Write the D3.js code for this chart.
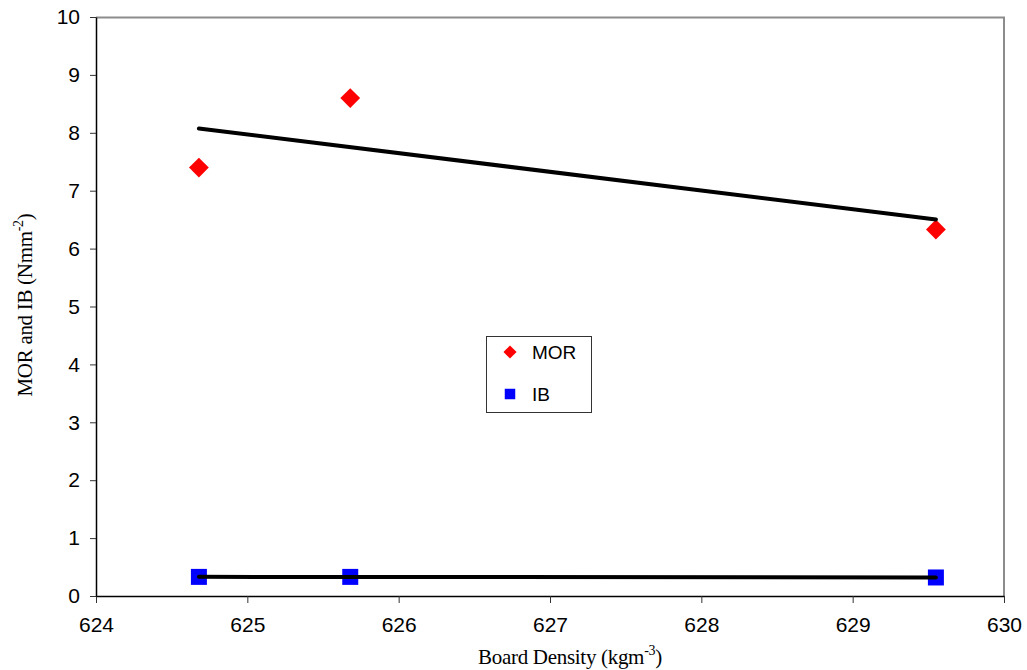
<!DOCTYPE html>
<html>
<head>
<meta charset="utf-8">
<script src="https://cdn.jsdelivr.net/npm/d3@7"></script>
<style>
  body { margin: 0; background: #fff; }
  text { font-family: Arial, "Liberation Sans", sans-serif; }
</style>
</head>
<body>
<script>
// board density values (kg/m3)
const density = [624.68, 625.68, 629.55];
const morValues = [7.40, 8.60, 6.33];
const ibValues = [0.33, 0.33, 0.32];
const xTicks = [624, 625, 626, 627, 628, 629, 630];
const yTicks = [0, 1, 2, 3, 4, 5, 6, 7, 8, 9, 10];
const seriesNames = ["MOR", "IB"];

const W = 1027, H = 670;
const margin = {top: 17, right: 23, bottom: 74, left: 96};
const width = W - margin.left - margin.right;
const height = H - margin.top - margin.bottom;

const svg = d3.select("body").append("svg")
   .attr("width", W)
   .attr("height", H);

const g = svg.append("g")
   .attr("transform", "translate(" + margin.left + "," + margin.top + ")");

const x = d3.scaleLinear().domain([624, 630]).range([0, width]);
const y = d3.scaleLinear().domain([0, 10]).range([height, 0]);

// top/right frame in grey
g.append("path")
   .attr("d", "M0,0.5H" + width + "V" + height)
   .attr("fill", "none")
   .attr("stroke", "#8c8c8c")
   .attr("stroke-width", 2);

// axes
const xAxis = g.append("g")
   .attr("transform", "translate(0," + height + ")")
   .call(d3.axisBottom(x).tickValues(xTicks).tickFormat(d3.format("d")).tickSizeInner(7).tickSizeOuter(0).tickPadding(14));
const yAxis = g.append("g")
   .call(d3.axisLeft(y).tickValues(yTicks).tickFormat(d3.format("d")).tickSizeInner(6).tickSizeOuter(0).tickPadding(10));

[xAxis, yAxis].forEach(a => {
  a.select(".domain").attr("stroke", "#000").attr("stroke-width", 1.5);
  a.selectAll(".tick line").attr("stroke", "#333");
  a.selectAll(".tick text")
     .attr("font-family", "Arial, 'Liberation Sans', sans-serif")
     .attr("font-size", 21)
     .attr("fill", "#000");
});

// linear trend lines
function trend(xs, ys) {
  const mx = d3.mean(xs), my = d3.mean(ys);
  let sxy = 0, sxx = 0;
  xs.forEach((v, i) => { sxy += (v - mx) * (ys[i] - my); sxx += (v - mx) * (v - mx); });
  const b = sxy / sxx, a = my - b * mx;
  const x0 = d3.min(xs), x1 = d3.max(xs);
  return [[x0, a + b * x0], [x1, a + b * x1]];
}

const morData = density.map((d, i) => ({x: d, y: morValues[i]}));
const ibData = density.map((d, i) => ({x: d, y: ibValues[i]}));

const diamond = d3.symbol().type(d3.symbolDiamond2).size(250);
const square = d3.symbol().type(d3.symbolSquare).size(256);

g.selectAll(".mor")
   .data(morData)
   .enter()
   .append("path")
   .attr("class", "mor")
   .attr("transform", d => "translate(" + x(d.x) + "," + y(d.y) + ")")
   .attr("d", diamond)
   .attr("fill", "#ff0000");

g.selectAll(".ib")
   .data(ibData)
   .enter()
   .append("path")
   .attr("class", "ib")
   .attr("transform", d => "translate(" + x(d.x) + "," + y(d.y) + ")")
   .attr("d", square)
   .attr("fill", "#0000ff");

const line = d3.line().x(d => x(d[0])).y(d => y(d[1]));
[trend(density, morValues), trend(density, ibValues)].forEach(t => {
  g.append("path")
     .attr("d", line(t))
     .attr("fill", "none")
     .attr("stroke", "#000")
     .attr("stroke-width", 4)
     .attr("stroke-linecap", "round");
});

// legend
const legend = svg.append("g").attr("transform", "translate(486,336)");
legend.append("rect")
   .attr("x", 0.5).attr("y", 0.5)
   .attr("width", 105).attr("height", 76)
   .attr("fill", "#fff")
   .attr("stroke", "#333")
   .attr("stroke-width", 1);
legend.append("path")
   .attr("transform", "translate(24,16)")
   .attr("d", d3.symbol().type(d3.symbolDiamond2).size(110))
   .attr("fill", "#ff0000");
legend.append("path")
   .attr("transform", "translate(24,58)")
   .attr("d", d3.symbol().type(d3.symbolSquare).size(110))
   .attr("fill", "#0000ff");
legend.selectAll(".lt")
   .data(seriesNames)
   .enter()
   .append("text")
   .attr("x", 46)
   .attr("y", (d, i) => 23 + i * 42)
   .attr("font-size", 19)
   .attr("fill", "#000")
   .text(d => d);

// axis titles
const xt = svg.append("text")
   .attr("x", 570).attr("y", 664)
   .attr("text-anchor", "middle")
   .style("font-family", "'Liberation Serif', 'Times New Roman', serif")
   .style("letter-spacing", "-0.3px")
   .attr("font-size", 21);
xt.append("tspan").text("Board Density (kgm");
xt.append("tspan").attr("dy", -9).attr("font-size", 14).text("-3");
xt.append("tspan").attr("dy", 9).text(")");

const yt = svg.append("text")
   .attr("transform", "translate(32,305) rotate(-90)")
   .attr("text-anchor", "middle")
   .style("font-family", "'Liberation Serif', 'Times New Roman', serif")
   .style("letter-spacing", "-0.3px")
   .attr("font-size", 21);
yt.append("tspan").text("MOR and IB (Nmm");
yt.append("tspan").attr("dy", -9).attr("font-size", 14).text("-2");
yt.append("tspan").attr("dy", 9).text(")");
</script>
</body>
</html>
